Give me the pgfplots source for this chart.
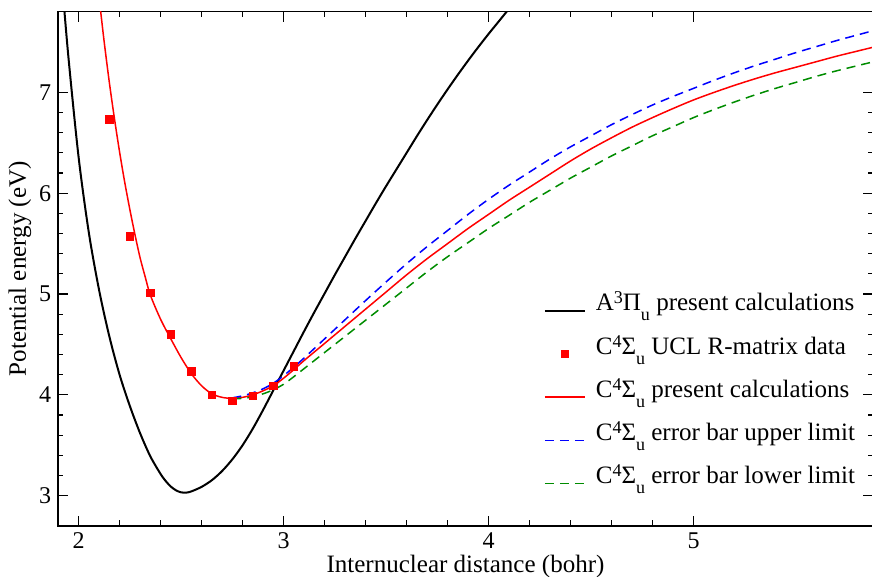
\documentclass[border=0pt]{standalone}
\usepackage{fontspec}
\setmainfont{Liberation Serif}
\usepackage{pgfplots}
\usepackage{pgfplotstable}
\pgfplotsset{compat=1.18}

\definecolor{dgreen}{RGB}{0,140,0}
\newcommand{\st}[3]{#1\raisebox{3.5bp}{\fontsize{9bp}{9bp}\selectfont #2}#3\raisebox{-5bp}{\fontsize{9bp}{9bp}\selectfont u}}

% A3Pi_u present calculations
\pgfplotstableread{
x y
1.92 8.08
1.95 7.36
2.00 6.36
2.05 5.61
2.10 5.04
2.15 4.58
2.20 4.20
2.25 3.89
2.30 3.62
2.35 3.39
2.40 3.215
2.425 3.145
2.45 3.09
2.475 3.053
2.50 3.033
2.525 3.03
2.55 3.042
2.60 3.087
2.65 3.153
2.70 3.244
2.75 3.36
2.80 3.50
2.85 3.665
2.90 3.85
2.95 4.045
3.00 4.24
3.05 4.435
3.10 4.63
3.15 4.82
3.20 5.005
3.25 5.19
3.30 5.37
3.35 5.55
3.40 5.725
3.45 5.90
3.50 6.07
3.55 6.235
3.60 6.40
3.65 6.565
3.70 6.725
3.75 6.88
3.80 7.03
3.85 7.175
3.90 7.315
3.95 7.45
4.00 7.58
4.05 7.705
4.10 7.83
4.15 7.95
}\apicalc

% C4Sigma_u UCL R-matrix
\pgfplotstableread{
x y
2.15 6.73
2.25 5.57
2.35 5.01
2.45 4.60
2.55 4.23
2.65 4.00
2.75 3.94
2.85 3.99
2.95 4.09
3.05 4.28
}\ucl

% C4Sigma_u present calculations
\pgfplotstableread{
x y
2.09 8.10
2.10 7.94
2.125 7.50
2.15 7.10
2.175 6.74
2.20 6.41
2.225 6.11
2.25 5.84
2.275 5.59
2.30 5.36
2.325 5.17
2.35 4.99
2.40 4.75
2.45 4.555
2.50 4.37
2.55 4.21
2.60 4.09
2.65 4.01
2.70 3.975
2.75 3.965
2.80 3.975
2.85 4.00
2.90 4.04
2.95 4.09
3.00 4.165
3.05 4.25
3.10 4.34
3.20 4.51
3.30 4.68
3.40 4.85
3.50 5.02
3.60 5.19
3.70 5.35
3.80 5.50
3.90 5.65
4.00 5.79
4.10 5.93
4.20 6.06
4.30 6.19
4.40 6.32
4.50 6.44
4.60 6.55
4.70 6.655
4.80 6.75
4.90 6.84
5.00 6.925
5.10 7.00
5.20 7.07
5.30 7.135
5.40 7.195
5.50 7.25
5.60 7.305
5.70 7.36
5.80 7.41
5.90 7.46
}\sigcalc

% error bar upper limit
\pgfplotstableread{
x y
2.75 3.97
2.80 3.99
2.85 4.02
2.90 4.06
2.95 4.115
3.00 4.19
3.05 4.275
3.10 4.365
3.20 4.555
3.30 4.745
3.40 4.935
3.50 5.12
3.60 5.30
3.70 5.47
3.80 5.63
3.90 5.79
4.00 5.94
4.10 6.08
4.20 6.21
4.30 6.34
4.40 6.46
4.50 6.57
4.60 6.68
4.70 6.78
4.80 6.875
4.90 6.96
5.00 7.04
5.10 7.12
5.20 7.195
5.30 7.265
5.40 7.33
5.50 7.395
5.60 7.455
5.70 7.515
5.80 7.57
5.90 7.625
}\sigupper

% error bar lower limit
\pgfplotstableread{
x y
2.75 3.96
2.80 3.965
2.85 3.98
2.90 4.01
2.95 4.05
3.00 4.105
3.05 4.18
3.10 4.26
3.20 4.42
3.30 4.58
3.40 4.74
3.50 4.90
3.60 5.06
3.70 5.22
3.80 5.37
3.90 5.51
4.00 5.65
4.10 5.78
4.20 5.91
4.30 6.03
4.40 6.15
4.50 6.26
4.60 6.37
4.70 6.47
4.80 6.57
4.90 6.66
5.00 6.75
5.10 6.83
5.20 6.905
5.30 6.975
5.40 7.04
5.50 7.10
5.60 7.16
5.70 7.215
5.80 7.265
5.90 7.315
}\siglower

\begin{document}
\begin{tikzpicture}
\begin{axis}[
    name=ax,
    scale only axis,
    width=407bp, height=256.8bp,
    xmin=1.9, xmax=5.875,
    ymin=2.7, ymax=7.8,
    xtick={2,3,4,5},
    ytick={3,4,5,6,7},
    minor x tick num=4,
    minor y tick num=4,
    tick align=inside,
    major tick length=5bp,
    minor tick length=2.7bp,
    axis line style={line width=0.75bp},
    every tick/.style={black, line width=0.6bp},
    tick label style={font=\fontsize{12bp}{14bp}\selectfont},
    /pgf/number format/assume math mode=true,
    xlabel={Internuclear distance (bohr)},
    ylabel={Potential energy (eV)},
    label style={font=\fontsize{12.5bp}{15bp}\selectfont},
    xlabel style={at={(axis description cs:0.5,-0.078)}, anchor=center},
    ylabel style={at={(axis description cs:-0.0467,0.5)}, anchor=center},
    legend cell align=left,
    legend image code/.code={\draw[mark repeat=2,mark phase=2,#1] plot coordinates {(0bp,0bp)(10bp,0bp)(20bp,0bp)};},
    legend style={draw=none, fill=none, at={(axis description cs:0.5955,0.4617)}, anchor=north west,
        inner sep=0pt, row sep=0pt, font=\fontsize{12.5bp}{15bp}\selectfont,
        nodes={inner sep=0pt, text height=11bp, text depth=10.6bp},
        /tikz/every odd column/.append style={column sep=5bp}},
]
\addplot[black, line width=1bp, smooth] table {\apicalc};
\addlegendentry{\st{A}{3}{Π} present calculations}
\addplot[only marks, mark=square*, mark size=1.9bp, red, fill=red] table {\ucl};
\addlegendentry{\st{C}{4}{Σ} UCL R-matrix data}
\addplot[red, line width=0.75bp, smooth] table {\sigcalc};
\addlegendentry{\st{C}{4}{Σ} present calculations}
\addplot[blue, line width=0.75bp, dash pattern=on 4.5bp off 3bp, smooth] table {\sigupper};
\addlegendentry{\st{C}{4}{Σ} error bar upper limit}
\addplot[dgreen, line width=0.75bp, dash pattern=on 4.5bp off 3bp, smooth] table {\siglower};
\addlegendentry{\st{C}{4}{Σ} error bar lower limit}
\end{axis}
\pgfresetboundingbox
\path ([xshift=-29bp,yshift=-25.35bp]ax.south west) rectangle ([xshift=-0.5bp,yshift=5.85bp]ax.north east);
\end{tikzpicture}
\end{document}
